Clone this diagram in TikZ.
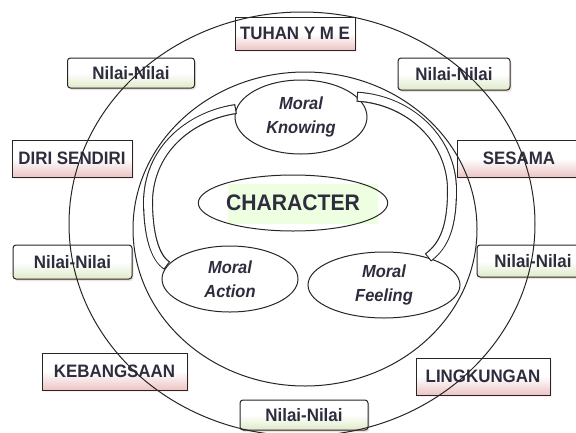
\documentclass[tikz,border=0pt]{standalone}
\usepackage{fontspec}
\setmainfont{Liberation Sans}
\newfontfamily\narrowsans[FakeStretch=0.94]{Liberation Sans}
\usepackage{xcolor}
\usepackage{tikz}
\usetikzlibrary{shapes.geometric,shadows}
\definecolor{txt}{RGB}{45,45,62}
\definecolor{nilaibot}{RGB}{222,234,200}
\definecolor{catbot}{RGB}{236,196,196}

\begin{document}
\begin{tikzpicture}[x=1pt,y=-1pt,
  catbox/.style={draw=black!85, line width=1pt, top color=white, bottom color=catbot, middle color=white, inner sep=0pt,
    font=\narrowsans\fontsize{18}{20}\selectfont\bfseries, text=txt, drop shadow={opacity=0.15, fill=red!50, shadow xshift=1.5pt, shadow yshift=-2pt}},
  nilaibox/.style={catbox, rounded corners=3pt, bottom color=nilaibot, middle color=white, drop shadow={opacity=0.15, fill=black!40, shadow xshift=1.5pt, shadow yshift=-2pt}},
  moral/.style={ellipse, draw=black!85, line width=1pt, fill=white, inner sep=0pt, align=center,
    font=\narrowsans\fontsize{17.5}{24}\selectfont\bfseries\itshape, text=txt},
  tube/.style={line width=10pt, draw=black!85, postaction={draw=white, line width=7.8pt, shorten <=1.1pt, shorten >=1.1pt}}]
  \useasboundingbox (0,0) rectangle (576,432);

  \node[catbox, minimum width=120, minimum height=33] (tuhan) at (295,33.5) {TUHAN Y M E};
  \node[nilaibox, minimum width=127, minimum height=30] (nilaiTL) at (131,73) {Nilai-Nilai};
  \node[nilaibox, minimum width=112, minimum height=32] (nilaiTR) at (454,74) {Nilai-Nilai};
  \node[catbox, minimum width=120, minimum height=37] (diri) at (72,158.5) {DIRI SENDIRI};
  \node[catbox, minimum width=124, minimum height=37] (sesama) at (519,158.5) {SESAMA};
  \node[nilaibox, minimum width=119, minimum height=34] (nilaiL) at (72.5,262) {Nilai-Nilai};
  \node[nilaibox, minimum width=112, minimum height=32] (nilaiR) at (533,261) {Nilai-Nilai};
  \node[catbox, minimum width=145, minimum height=37] (kebangsaan) at (114.5,371.5) {KEBANGSAAN};
  \node[catbox, minimum width=134, minimum height=37] (lingkungan) at (483,376.5) {LINGKUNGAN};
  \node[nilaibox, minimum width=128, minimum height=30] (nilaiB) at (304,415) {Nilai-Nilai};

  \draw[line width=1pt, black!85] (302,224) ellipse [x radius=233, y radius=212];
  \draw[line width=1pt, black!85] (305,229) ellipse [x radius=172, y radius=157];

  \node[moral, minimum width=132, minimum height=74] (know) at (301,117) {Moral\\Knowing};
  \node[moral, minimum width=136, minimum height=66] (act) at (230,279) {Moral\\Action};
  \node[moral, minimum width=152, minimum height=66] (feel) at (384,285) {Moral\\Feeling};
  \fill[green!60!yellow!12] (228,184) rectangle (378,224);
  \node[ellipse, draw=black!85, line width=1pt, inner sep=0pt, minimum width=186, minimum height=56,
    font=\narrowsans\fontsize{22.5}{24}\selectfont\bfseries, text=txt] (char) at (293,203) {CHARACTER};

  \draw[tube] (know.173) .. controls (195,115) and (150,145) .. (148,200) .. controls (148,235) and (155,258) .. (act.168);
  \draw[tube] (know.20) .. controls (410,100) and (452,140) .. (452,190) .. controls (452,225) and (445,245) .. (feel.32);
\end{tikzpicture}
\end{document}
